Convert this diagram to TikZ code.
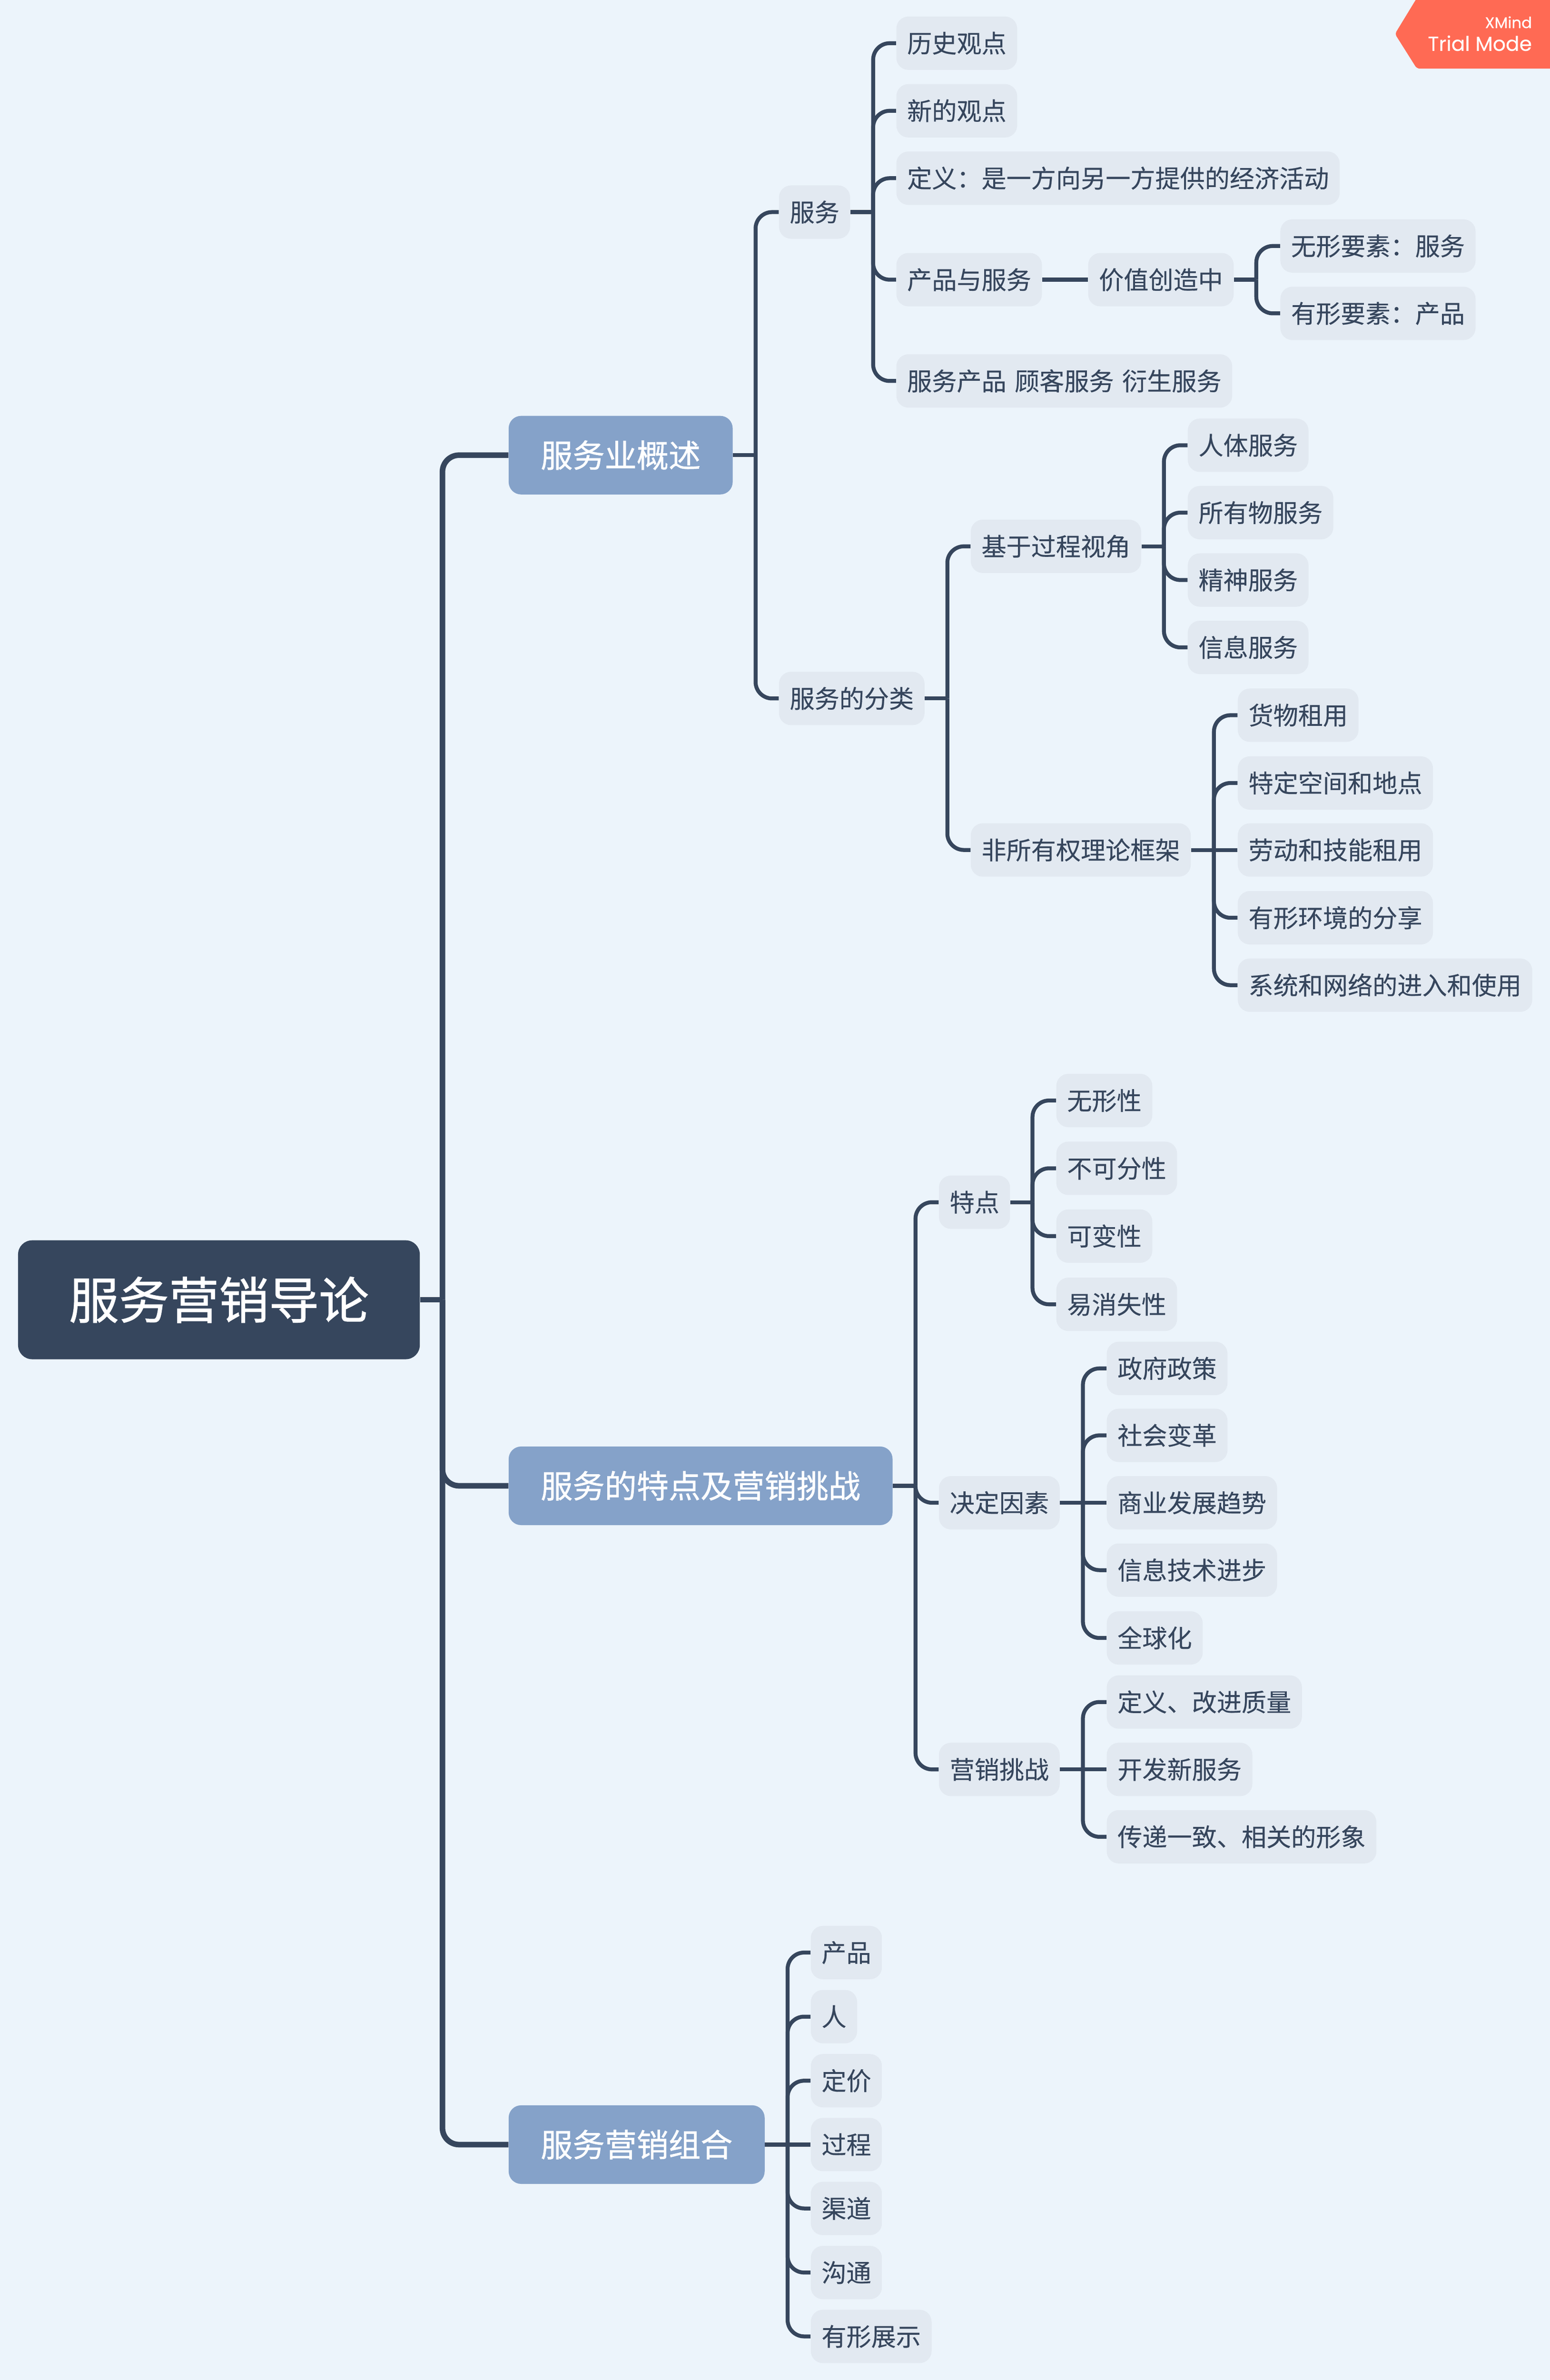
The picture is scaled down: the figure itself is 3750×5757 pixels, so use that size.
\documentclass[tikz,border=0pt]{standalone}
\usepackage{fontspec}
\setmainfont[WordSpace=1.49,FakeBold=0.3]{Noto Sans CJK SC}
\newfontfamily\topicfont[FakeBold=0.9]{Noto Sans CJK SC}
\newfontfamily\badgefont[FakeBold=0.2]{Poppins}
\newfontfamily\badgebold[FakeBold=0.6]{Poppins}
\usetikzlibrary{arrows.meta,positioning}
\definecolor{bgblue}{HTML}{ECF4FB}
\definecolor{leafgray}{HTML}{E2E9F1}
\definecolor{topicblue}{HTML}{85A2C9}
\definecolor{darkslate}{HTML}{36465D}
\definecolor{badgered}{HTML}{FF6A54}
\tikzset{
    leaf/.style={anchor=west, fill=leafgray, text=darkslate, rounded corners=0.29cm,
        inner xsep=0.26cm, inner ysep=0pt, minimum height=1.29cm,
        font=\fontsize{17.07pt}{20pt}\selectfont, text height=0.528cm, text depth=0.072cm},
    topic/.style={anchor=west, fill=topicblue, text=white, rounded corners=0.3cm,
        inner xsep=0.775cm, inner ysep=0pt, minimum height=1.9cm,
        font=\topicfont\fontsize{22pt}{26pt}\selectfont, text height=0.681cm, text depth=0.093cm},
    rootbox/.style={anchor=west, fill=darkslate, text=white, rounded corners=0.34cm,
        inner xsep=1.23cm, inner ysep=0pt, minimum height=2.875cm,
        font=\topicfont\fontsize{34.4pt}{40pt}\selectfont, text height=1.065cm, text depth=0.145cm},
    branch/.style={draw=darkslate, line width=0.095cm},
    elbow/.style={branch, rounded corners=0.4cm},
    trunk/.style={draw=darkslate, line width=0.135cm},
    trunkelbow/.style={trunk, rounded corners=0.4cm},
    badgetext/.style={anchor=base east, text=white, inner sep=0pt}
}
\begin{document}
\begin{tikzpicture}[x=0.01cm, y=-0.01cm]
    \fill[bgblue] (0,0) rectangle (3750,5757);
    \fill[badgered] (3750,0) -- (3425,0) [rounded corners=0.07cm] -- (3375,82) -- (3428,166) [sharp corners] -- (3750,166) -- cycle;
    \node[badgetext, font=\badgebold\fontsize{10.6pt}{12pt}\selectfont] (xmind) at (3707,68) {XMind};
    \node[badgetext, font=\badgefont\fontsize{13.9pt}{16pt}\selectfont] (trial) at (3707,123) {Trial Mode};

    \node[rootbox] (root) at (43,3144) {服务营销导论};
    \node[topic] (gaishu) at (1230,1101) {服务业概述};
    \node[topic] (tedianji) at (1230,3594) {服务的特点及营销挑战};
    \node[topic] (zuhe) at (1230,5187.5) {服务营销组合};

    \node[leaf] (fuwu) at (1884,513) {服务};
    \node[leaf] (lishi) at (2168,104.5) {历史观点};
    \node[leaf] (xinde) at (2168,268) {新的观点};
    \node[leaf] (dingyi) at (2168,431) {定义：是一方向另一方提供的经济活动};
    \node[leaf] (chanpinyu) at (2168,676.5) {产品与服务};
    \node[leaf] (jiazhi) at (2632,676.5) {价值创造中};
    \node[leaf] (wuxing) at (3097,595) {无形要素：服务};
    \node[leaf] (youxing) at (3097,758) {有形要素：产品};
    \node[leaf] (yansheng) at (2168,921.5) {服务产品 顾客服务 衍生服务};

    \node[leaf] (fenlei) at (1884,1689.5) {服务的分类};
    \node[leaf] (guocheng) at (2348,1321.5) {基于过程视角};
    \node[leaf] (renti) at (2873,1077) {人体服务};
    \node[leaf] (suoyou) at (2873,1240) {所有物服务};
    \node[leaf] (jingshen) at (2873,1403) {精神服务};
    \node[leaf] (xinxi) at (2873,1566) {信息服务};
    \node[leaf] (feisuoyou) at (2348,2056) {非所有权理论框架};
    \node[leaf] (huowu) at (2994,1730) {货物租用};
    \node[leaf] (kongjian) at (2994,1894) {特定空间和地点};
    \node[leaf] (laodong) at (2994,2056) {劳动和技能租用};
    \node[leaf] (huanjing) at (2994,2220) {有形环境的分享};
    \node[leaf] (xitong) at (2994,2383) {系统和网络的进入和使用};

    \node[leaf] (tedian) at (2271,2908) {特点};
    \node[leaf] (wuxingxing) at (2555,2662) {无形性};
    \node[leaf] (bukefen) at (2555,2826) {不可分性};
    \node[leaf] (kebian) at (2555,2990) {可变性};
    \node[leaf] (yixiaoshi) at (2555,3155) {易消失性};

    \node[leaf] (jueding) at (2271,3635) {决定因素};
    \node[leaf] (zhengfu) at (2677,3310) {政府政策};
    \node[leaf] (shehui) at (2677,3472) {社会变革};
    \node[leaf] (shangye) at (2677,3635) {商业发展趋势};
    \node[leaf] (jishu) at (2677,3798) {信息技术进步};
    \node[leaf] (quanqiu) at (2677,3962) {全球化};

    \node[leaf] (tiaozhan) at (2271,4280) {营销挑战};
    \node[leaf] (zhiliang) at (2677,4117) {定义、改进质量};
    \node[leaf] (xinfuwu) at (2677,4280) {开发新服务};
    \node[leaf] (chuandi) at (2677,4443) {传递一致、相关的形象};

    \node[leaf] (chanpin) at (1961,4723) {产品};
    \node[leaf] (ren) at (1961,4878) {人};
    \node[leaf] (dingjia) at (1961,5033) {定价};
    \node[leaf] (guochengp) at (1961,5187.5) {过程};
    \node[leaf] (qudao) at (1961,5342) {渠道};
    \node[leaf] (goutong) at (1961,5497) {沟通};
    \node[leaf] (youxingzs) at (1961,5651.5) {有形展示};

    \coordinate (jroot) at (1070.5,3144);
    \coordinate (jgaishu) at (1828,1101);
    \coordinate (jfuwu) at (2112.5,513);
    \coordinate (jjiazhi) at (3039.5,676.5);
    \coordinate (jfenlei) at (2292,1689.5);
    \coordinate (jguocheng) at (2816,1321.5);
    \coordinate (jfeisuoyou) at (2937,2056);
    \coordinate (jtedianji) at (2215,3594);
    \coordinate (jtedian) at (2498,2908);
    \coordinate (jjueding) at (2620,3635);
    \coordinate (jtiaozhan) at (2620,4280);
    \coordinate (jzuhe) at (1905.5,5187.5);

    \draw[trunk] (root.east) -- (jroot);
    \draw[trunkelbow] (jroot) |- (gaishu.west);
    \draw[trunkelbow] (jroot) |- (tedianji.west);
    \draw[trunkelbow] (jroot) |- (zuhe.west);

    \draw[branch] (gaishu.east) -- (jgaishu);
    \draw[elbow] (jgaishu) |- (fuwu.west);
    \draw[elbow] (jgaishu) |- (fenlei.west);

    \draw[branch] (fuwu.east) -- (jfuwu);
    \draw[elbow] (jfuwu) |- (lishi.west);
    \draw[elbow] (jfuwu) |- (xinde.west);
    \draw[elbow] (jfuwu) |- (dingyi.west);
    \draw[elbow] (jfuwu) |- (chanpinyu.west);
    \draw[elbow] (jfuwu) |- (yansheng.west);
    \draw[branch] (chanpinyu.east) -- (jiazhi.west);
    \draw[branch] (jiazhi.east) -- (jjiazhi);
    \draw[elbow] (jjiazhi) |- (wuxing.west);
    \draw[elbow] (jjiazhi) |- (youxing.west);

    \draw[branch] (fenlei.east) -- (jfenlei);
    \draw[elbow] (jfenlei) |- (guocheng.west);
    \draw[elbow] (jfenlei) |- (feisuoyou.west);
    \draw[branch] (guocheng.east) -- (jguocheng);
    \draw[elbow] (jguocheng) |- (renti.west);
    \draw[elbow] (jguocheng) |- (suoyou.west);
    \draw[elbow] (jguocheng) |- (jingshen.west);
    \draw[elbow] (jguocheng) |- (xinxi.west);
    \draw[branch] (feisuoyou.east) -- (jfeisuoyou);
    \draw[elbow] (jfeisuoyou) |- (huowu.west);
    \draw[elbow] (jfeisuoyou) |- (kongjian.west);
    \draw[branch] (jfeisuoyou) -- (laodong.west);
    \draw[elbow] (jfeisuoyou) |- (huanjing.west);
    \draw[elbow] (jfeisuoyou) |- (xitong.west);

    \draw[branch] (tedianji.east) -- (jtedianji);
    \draw[elbow] (jtedianji) |- (tedian.west);
    \draw[elbow] (jtedianji) |- (jueding.west);
    \draw[elbow] (jtedianji) |- (tiaozhan.west);

    \draw[branch] (tedian.east) -- (jtedian);
    \draw[elbow] (jtedian) |- (wuxingxing.west);
    \draw[elbow] (jtedian) |- (bukefen.west);
    \draw[elbow] (jtedian) |- (kebian.west);
    \draw[elbow] (jtedian) |- (yixiaoshi.west);

    \draw[branch] (jueding.east) -- (jjueding);
    \draw[elbow] (jjueding) |- (zhengfu.west);
    \draw[elbow] (jjueding) |- (shehui.west);
    \draw[branch] (jjueding) -- (shangye.west);
    \draw[elbow] (jjueding) |- (jishu.west);
    \draw[elbow] (jjueding) |- (quanqiu.west);

    \draw[branch] (tiaozhan.east) -- (jtiaozhan);
    \draw[elbow] (jtiaozhan) |- (zhiliang.west);
    \draw[branch] (jtiaozhan) -- (xinfuwu.west);
    \draw[elbow] (jtiaozhan) |- (chuandi.west);

    \draw[branch] (zuhe.east) -- (jzuhe);
    \draw[elbow] (jzuhe) |- (chanpin.west);
    \draw[elbow] (jzuhe) |- (ren.west);
    \draw[elbow] (jzuhe) |- (dingjia.west);
    \draw[branch] (jzuhe) -- (guochengp.west);
    \draw[elbow] (jzuhe) |- (qudao.west);
    \draw[elbow] (jzuhe) |- (goutong.west);
    \draw[elbow] (jzuhe) |- (youxingzs.west);
\end{tikzpicture}
\end{document}
